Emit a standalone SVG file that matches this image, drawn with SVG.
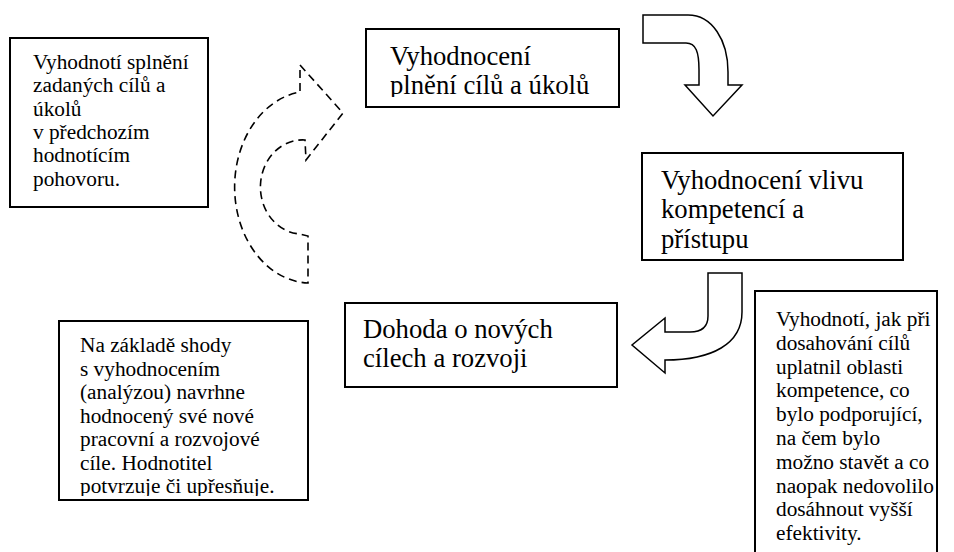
<svg xmlns="http://www.w3.org/2000/svg" width="954" height="552" viewBox="0 0 954 552">
  <style>
    .box { fill: #ffffff; stroke: #000000; stroke-width: 2; }
    .arrow { fill: #ffffff; stroke: #000000; stroke-width: 1.5; stroke-linejoin: miter; }
    .dashed { fill: none; stroke: #000000; stroke-width: 1.6; stroke-dasharray: 8 5; }
    .sm { font-family: "Liberation Serif", "Times New Roman", serif; font-size: 21.3px; fill: #000000; }
    .lg { font-family: "Liberation Serif", "Times New Roman", serif; font-size: 26.7px; fill: #000000; }
  </style>
  <defs>
    <clipPath id="clipB"><rect x="366" y="29" width="253" height="68"/></clipPath>
    <clipPath id="clipE"><rect x="59" y="321" width="249" height="175"/></clipPath>
  </defs>

  <rect width="954" height="552" fill="#ffffff"/>

  <!-- connectors: block arrows between the steps -->
  <g id="connectors">
    <!-- dashed return arrow -->
    <path class="dashed" d="M300,65 L343,113 L306,160 L305,140 A42,47 0 0 0 300,234 L308,236 L308,283 A76,96 0 0 1 300,92 Z"/>
    <!-- top right bent arrow pointing down -->
    <path class="arrow" d="M643,15 L688,15 C712,15 728,40 728,72 L728,85 L742,85 L713,116 L685,85 L699,85 L699,70 C699,52 696,43 686,43 L643,43 Z"/>
    <!-- hook arrow pointing left -->
    <path class="arrow" d="M708,273 L742,273 L742,312 C742,344 712,360 665,360 L665,373 L632,345 L665,318 L665,332 L690,332 C702,332 708,326 708,316 Z"/>
  </g>

  <g id="note-previous">
    <rect class="box" x="10" y="38" width="198" height="169"/>
    <text class="sm" x="33" y="69">Vyhodnotí splnění</text>
    <text class="sm" x="33" y="92">zadaných cílů a</text>
    <text class="sm" x="33" y="116">úkolů</text>
    <text class="sm" x="33" y="139">v předchozím</text>
    <text class="sm" x="33" y="162">hodnotícím</text>
    <text class="sm" x="33" y="186">pohovoru.</text>
  </g>

  <g id="step-goals">
    <rect class="box" x="366" y="29" width="253" height="78"/>
    <g clip-path="url(#clipB)">
      <text class="lg" x="390" y="65">Vyhodnocení</text>
      <text class="lg" x="390" y="94">plnění cílů a úkolů</text>
    </g>
  </g>

  <g id="step-competence">
    <rect class="box" x="642" y="153" width="261" height="107"/>
    <text class="lg" x="661" y="189">Vyhodnocení vlivu</text>
    <text class="lg" x="661" y="218">kompetencí a</text>
    <text class="lg" x="661" y="248">přístupu</text>
  </g>

  <g id="step-agreement">
    <rect class="box" x="345" y="303" width="272" height="84"/>
    <text class="lg" x="363" y="338">Dohoda o nových</text>
    <text class="lg" x="363" y="367">cílech a rozvoji</text>
  </g>

  <g id="note-agreement">
    <rect class="box" x="59" y="321" width="249" height="179"/>
    <g clip-path="url(#clipE)">
      <text class="sm" x="80" y="352">Na základě shody</text>
      <text class="sm" x="80" y="375.5">s vyhodnocením</text>
      <text class="sm" x="80" y="399">(analýzou) navrhne</text>
      <text class="sm" x="80" y="422.5">hodnocený své nové</text>
      <text class="sm" x="80" y="446">pracovní a rozvojové</text>
      <text class="sm" x="80" y="469.5">cíle. Hodnotitel</text>
      <text class="sm" x="80" y="493">potvrzuje či upřesňuje.</text>
    </g>
  </g>

  <g id="note-competence">
    <rect class="box" x="755" y="291" width="182" height="270"/>
    <text class="sm" x="776" y="326">Vyhodnotí, jak při</text>
    <text class="sm" x="776" y="349.8">dosahování cílů</text>
    <text class="sm" x="776" y="373.6">uplatnil oblasti</text>
    <text class="sm" x="776" y="397.4">kompetence, co</text>
    <text class="sm" x="776" y="421.2">bylo podporující,</text>
    <text class="sm" x="776" y="445">na čem bylo</text>
    <text class="sm" x="776" y="468.8">možno stavět a co</text>
    <text class="sm" x="776" y="492.6">naopak nedovolilo</text>
    <text class="sm" x="776" y="516.4">dosáhnout vyšší</text>
    <text class="sm" x="776" y="540.2">efektivity.</text>
  </g>
</svg>
